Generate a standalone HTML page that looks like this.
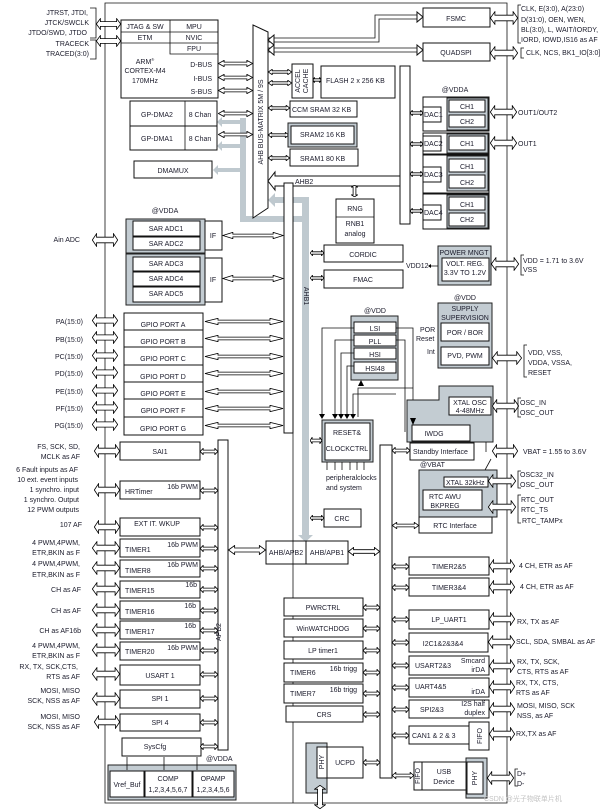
<!DOCTYPE html>
<html><head><meta charset="utf-8"><style>
html,body{margin:0;padding:0;background:#fff}
svg{display:block}
text{font-family:"Liberation Sans",sans-serif;font-size:7px;fill:#1b1b2b}
.b{fill:#fff;stroke:#111;stroke-width:1}
.g{fill:#c3ccd2;stroke:#222;stroke-width:1}
.gr{fill:#bfc9cf}
.l{stroke:#111;stroke-width:0.8;fill:none}
</style></head><body>
<svg width="616" height="809" viewBox="0 0 616 809" xmlns="http://www.w3.org/2000/svg">
<defs>
<symbol id="a" viewBox="0 0 40 10" preserveAspectRatio="none"><path d="M0.5,5 L7,0.5 L7,3 L33,3 L33,0.5 L39.5,5 L33,9.5 L33,7 L7,7 L7,9.5Z" fill="#fff" stroke="#000" stroke-width="0.8" vector-effect="non-scaling-stroke"/></symbol>
<symbol id="v" viewBox="0 0 10 40" preserveAspectRatio="none"><path d="M5,0.5 L0.5,7 L3,7 L3,33 L0.5,33 L5,39.5 L9.5,33 L7,33 L7,7 L9.5,7Z" fill="#fff" stroke="#000" stroke-width="0.8" vector-effect="non-scaling-stroke"/></symbol>
</defs>

<!-- frame -->
<path class="l" d="M105,3 L507,3 L507,803 L105,803 Z" stroke-width="1.2"/>

<!-- gray buses -->
<rect class="gr" x="240" y="118" width="6" height="104"/>
<rect class="gr" x="240" y="216" width="68" height="6"/>
<rect class="gr" x="302" y="200" width="7" height="335"/>
<polygon class="gr" points="298,535 313,535 305.5,542"/>
<rect class="gr" x="275" y="197" width="34" height="6"/>
<polygon class="gr" points="275,193 275,207 268,200"/>
<rect class="gr" x="222" y="120" width="20" height="4"/><polygon class="gr" points="222,117 222,127 217,122"/>
<rect class="gr" x="222" y="144" width="20" height="4"/><polygon class="gr" points="222,141 222,151 217,146"/>
<rect class="gr" x="218" y="168" width="24" height="4"/><polygon class="gr" points="218,165 218,175 213,170"/>

<!-- left external -->
<text x="88" y="15" text-anchor="end">JTRST, JTDI,</text>
<text x="89" y="25" text-anchor="end">JTCK/SWCLK</text>
<text x="87" y="35" text-anchor="end">JTDO/SWD, JTDO</text>
<path class="l" d="M90,8 H96 V38 H90"/>
<text x="89" y="46" text-anchor="end">TRACECK</text>
<text x="89" y="56" text-anchor="end">TRACED(3:0)</text>
<path class="l" d="M90,40 H96 V59 H90"/>
<use href="#a" x="96" y="18" width="25" height="12"/>
<use href="#a" x="96" y="35" width="25" height="12"/>

<!-- JTAG / CPU -->
<rect class="b" x="121" y="20" width="97" height="78"/>
<path class="l" d="M121,32 H218 M121,43 H218 M170,20 V54 H218"/>
<text x="145" y="29" text-anchor="middle">JTAG &amp; SW</text>
<text x="194" y="29" text-anchor="middle">MPU</text>
<text x="145" y="40" text-anchor="middle">ETM</text>
<text x="194" y="40" text-anchor="middle">NVIC</text>
<text x="194" y="51" text-anchor="middle">FPU</text>
<text x="145" y="64" text-anchor="middle">ARM<tspan font-size="4" dy="-3">®</tspan></text>
<text x="145" y="73" text-anchor="middle">CORTEX-M4</text>
<text x="145" y="83" text-anchor="middle">170MHz</text>
<text x="212" y="67" text-anchor="end">D-BUS</text>
<text x="212" y="81" text-anchor="end">I-BUS</text>
<text x="212" y="94" text-anchor="end">S-BUS</text>
<use href="#a" x="218" y="60" width="35" height="7"/>
<use href="#a" x="218" y="74" width="35" height="7"/>
<use href="#a" x="218" y="87" width="35" height="7"/>

<!-- DMA -->
<rect class="b" x="130" y="101" width="87" height="25"/>
<rect class="b" x="130" y="126" width="87" height="24"/>
<path class="l" d="M185,101 V150"/>
<text x="157" y="117" text-anchor="middle">GP-DMA2</text>
<text x="157" y="141" text-anchor="middle">GP-DMA1</text>
<text x="200" y="117" text-anchor="middle">8 Chan</text>
<text x="200" y="141" text-anchor="middle">8 Chan</text>
<use href="#a" x="218" y="110" width="35" height="7"/>
<use href="#a" x="218" y="131" width="35" height="7"/>
<rect class="b" x="134" y="161" width="78" height="17"/>
<text x="173" y="173" text-anchor="middle">DMAMUX</text>

<!-- bus matrix -->
<polygon class="b" points="253,25 268,32 268,208 253,218"/>
<text transform="translate(263,122) rotate(-90)" text-anchor="middle" font-size="6.5">AHB BUS-MATRIX 5M / 9S</text>

<!-- FSMC / QSPI paths -->
<path class="l" d="M268,38 H375 V15 H417 M268,42 H379 V19 H417"/>
<polygon class="b" points="417,12 423,17 417,22"/>
<path class="l" d="M268,48 H417 M268,52 H417"/>
<polygon class="b" points="417,45 423,50 417,55"/>
<polygon class="b" points="274,35 268,40 274,45"/>
<polygon class="b" points="274,45 268,50 274,55"/>
<rect class="b" x="423" y="8" width="67" height="19"/>
<text x="456" y="21" text-anchor="middle">FSMC</text>
<rect class="b" x="423" y="43" width="67" height="18"/>
<text x="456" y="55" text-anchor="middle">QUADSPI</text>
<use href="#a" x="490" y="11" width="28" height="14"/>
<use href="#a" x="490" y="46" width="28" height="14"/>
<path class="l" d="M521,5 H518 V43 H521"/>
<text x="521" y="11">CLK, E(3:0), A(23:0)</text>
<text x="521" y="22">D(31:0), OEN, WEN,</text>
<text x="521" y="32">BL(3:0), L, WAIT/IORDY,</text>
<text x="521" y="42">IORD, IOWD,IS16 as AF</text>
<path class="l" d="M524,48 H521 V58 H524"/>
<text x="526" y="55">CLK, NCS, BK1_IO[3:0]</text>

<!-- memories -->
<use href="#a" x="268" y="69" width="24" height="6"/>
<use href="#a" x="268" y="80" width="24" height="6"/>
<rect class="b" x="292" y="64" width="21" height="34"/>
<text transform="translate(300,81) rotate(-90)" text-anchor="middle" font-size="6">ACCEL</text>
<text transform="translate(308,81) rotate(-90)" text-anchor="middle" font-size="6">CACHE</text>
<use href="#a" x="313" y="77" width="8" height="6"/>
<rect class="b" x="321" y="66" width="74" height="32"/>
<text x="326" y="83">FLASH 2 x 256 KB</text>
<use href="#a" x="268" y="105" width="22" height="6"/>
<rect class="b" x="290" y="101" width="67" height="16"/>
<text x="292" y="112">CCM SRAM 32 KB</text>
<use href="#a" x="268" y="132" width="21" height="6"/>
<rect class="g" x="288" y="123" width="69" height="24"/>
<rect class="b" x="291" y="126" width="63" height="18"/>
<text x="300" y="137">SRAM2 16 KB</text>
<use href="#a" x="268" y="155" width="22" height="6"/>
<rect class="b" x="290" y="149" width="68" height="17"/>
<text x="300" y="161">SRAM1 80 KB</text>

<!-- AHB2 -->
<path class="b" d="M275,172 L275,176 L400,176 L400,186 L275,186 L275,190 L268,181 Z"/>
<text x="295" y="184">AHB2</text>
<rect class="b" x="400" y="66" width="10" height="158"/>
<use href="#v" x="351" y="185" width="7" height="12"/>
<rect class="b" x="336" y="199" width="38" height="44"/>
<path class="l" d="M336,217 H374"/>
<text x="355" y="211" text-anchor="middle">RNG</text>
<text x="355" y="226" text-anchor="middle">RNB1</text>
<text x="355" y="236" text-anchor="middle">analog</text>

<!-- DACs -->
<text x="455" y="92" text-anchor="middle">@VDDA</text>
<rect class="b" x="423" y="97" width="66" height="34"/>
<rect class="g" x="447" y="98" width="41" height="32"/>
<rect class="b" x="449" y="100" width="36" height="12"/><text x="467" y="109" text-anchor="middle">CH1</text>
<rect class="b" x="449" y="115" width="36" height="12"/><text x="467" y="124" text-anchor="middle">CH2</text>
<rect class="b" x="423" y="107" width="18" height="15"/><text x="424" y="117">DAC1</text>
<rect class="b" x="423" y="133" width="66" height="21"/>
<rect class="g" x="447" y="134" width="41" height="19"/>
<rect class="b" x="449" y="136" width="36" height="14"/><text x="467" y="146" text-anchor="middle">CH1</text>
<rect class="b" x="423" y="136" width="18" height="15"/><text x="424" y="146">DAC2</text>
<rect class="b" x="423" y="155" width="66" height="38"/>
<rect class="g" x="447" y="156" width="41" height="35"/>
<rect class="b" x="449" y="159" width="36" height="13"/><text x="467" y="169" text-anchor="middle">CH1</text>
<rect class="b" x="449" y="175" width="36" height="13"/><text x="467" y="185" text-anchor="middle">CH2</text>
<rect class="b" x="423" y="167" width="18" height="15"/><text x="424" y="177">DAC3</text>
<rect class="b" x="423" y="194" width="66" height="35"/>
<rect class="g" x="447" y="195" width="41" height="33"/>
<rect class="b" x="449" y="197" width="36" height="13"/><text x="467" y="207" text-anchor="middle">CH1</text>
<rect class="b" x="449" y="213" width="36" height="13"/><text x="467" y="222" text-anchor="middle">CH2</text>
<rect class="b" x="423" y="205" width="18" height="15"/><text x="424" y="215">DAC4</text>
<use href="#a" x="410" y="110" width="13" height="6"/>
<use href="#a" x="410" y="141" width="13" height="6"/>
<use href="#a" x="410" y="171" width="13" height="6"/>
<use href="#a" x="410" y="208" width="13" height="6"/>
<use href="#a" x="490" y="105" width="27" height="14"/>
<use href="#a" x="490" y="136" width="27" height="14"/>
<text x="518" y="115">OUT1/OUT2</text>
<text x="518" y="146">OUT1</text>

<!-- CORDIC/FMAC/POWER -->
<rect class="b" x="324" y="245" width="79" height="17"/><text x="363" y="257" text-anchor="middle">CORDIC</text>
<rect class="b" x="324" y="270" width="79" height="18"/><text x="363" y="282" text-anchor="middle">FMAC</text>
<use href="#a" x="310" y="250" width="14" height="6"/>
<use href="#a" x="310" y="275" width="14" height="6"/>
<rect class="g" x="438" y="246" width="53" height="39"/>
<text x="464" y="255" text-anchor="middle">POWER MNGT</text>
<rect class="b" x="442" y="258" width="47" height="23"/>
<text x="465" y="266" text-anchor="middle">VOLT. REG.</text>
<text x="465" y="275" text-anchor="middle">3.3V TO 1.2V</text>
<text x="406" y="268">VDD12</text>
<path class="l" d="M438,266 H431"/><polygon points="431,264 431,268 428,266" fill="#000"/>
<use href="#a" x="491" y="257" width="28" height="14"/>
<path class="l" d="M524,255 H521 V275 H524"/>
<text x="523" y="263">VDD = 1.71 to 3.6V</text>
<text x="523" y="272">VSS</text>

<!-- AHB1 / ADC / GPIO -->
<rect class="b" x="284" y="183" width="9" height="250"/>
<text transform="translate(304,296) rotate(90)" text-anchor="middle" font-size="6.5">AHB1</text>
<text x="165" y="213" text-anchor="middle">@VDDA</text>
<rect class="g" x="126" y="219" width="79" height="34"/>
<rect class="b" x="133" y="221" width="67" height="15"/><text x="166" y="231" text-anchor="middle">SAR ADC1</text>
<rect class="b" x="133" y="237" width="67" height="13"/><text x="166" y="246" text-anchor="middle">SAR ADC2</text>
<rect class="b" x="205" y="221" width="17" height="29"/><text x="213" y="238" text-anchor="middle">IF</text>
<rect class="g" x="126" y="254" width="79" height="51"/>
<rect class="b" x="133" y="257" width="67" height="14"/><text x="166" y="266" text-anchor="middle">SAR ADC3</text>
<rect class="b" x="133" y="272" width="67" height="14"/><text x="166" y="281" text-anchor="middle">SAR ADC4</text>
<rect class="b" x="133" y="287" width="67" height="15"/><text x="166" y="296" text-anchor="middle">SAR ADC5</text>
<rect class="b" x="205" y="258" width="17" height="44"/><text x="213" y="282" text-anchor="middle">IF</text>
<use href="#a" x="222" y="232" width="62" height="7"/>
<use href="#a" x="222" y="275" width="62" height="7"/>
<text x="80" y="242" text-anchor="end">Ain ADC</text>
<use href="#a" x="92" y="233" width="26" height="14"/>

<g>
<rect class="b" x="124" y="313" width="79" height="17"/><text x="163" y="327" text-anchor="middle">GPIO PORT A</text>
<rect class="b" x="124" y="330" width="79" height="17"/><text x="163" y="344" text-anchor="middle">GPIO PORT B</text>
<rect class="b" x="124" y="347" width="79" height="18"/><text x="163" y="361" text-anchor="middle">GPIO PORT C</text>
<rect class="b" x="124" y="365" width="79" height="17"/><text x="163" y="379" text-anchor="middle">GPIO PORT D</text>
<rect class="b" x="124" y="382" width="79" height="17"/><text x="163" y="396" text-anchor="middle">GPIO PORT E</text>
<rect class="b" x="124" y="399" width="79" height="18"/><text x="163" y="413" text-anchor="middle">GPIO PORT F</text>
<rect class="b" x="124" y="417" width="79" height="18"/><text x="163" y="431" text-anchor="middle">GPIO PORT G</text>
</g>
<g font-size="7">
<text x="83" y="324" text-anchor="end">PA(15:0)</text>
<text x="83" y="342" text-anchor="end">PB(15:0)</text>
<text x="83" y="359" text-anchor="end">PC(15:0)</text>
<text x="83" y="376" text-anchor="end">PD(15:0)</text>
<text x="83" y="394" text-anchor="end">PE(15:0)</text>
<text x="83" y="411" text-anchor="end">PF(15:0)</text>
<text x="83" y="428" text-anchor="end">PG(15:0)</text>
</g>
<use href="#a" x="92" y="314" width="26" height="13"/>
<use href="#a" x="92" y="331" width="26" height="13"/>
<use href="#a" x="92" y="349" width="26" height="13"/>
<use href="#a" x="92" y="366" width="26" height="13"/>
<use href="#a" x="92" y="384" width="26" height="13"/>
<use href="#a" x="92" y="401" width="26" height="13"/>
<use href="#a" x="92" y="418" width="26" height="13"/>
<use href="#a" x="204" y="318" width="80" height="7"/>
<use href="#a" x="204" y="335" width="80" height="7"/>
<use href="#a" x="204" y="353" width="80" height="7"/>
<use href="#a" x="204" y="370" width="80" height="7"/>
<use href="#a" x="204" y="388" width="80" height="7"/>
<use href="#a" x="204" y="405" width="80" height="7"/>
<use href="#a" x="204" y="422" width="80" height="7"/>

<!-- lower left APB2 -->
<rect class="b" x="218" y="440" width="10" height="310"/>
<text transform="translate(221,632) rotate(-90)" text-anchor="middle" font-size="6.5" fill="#334">APB2</text>
<g>
<rect class="b" x="120" y="442" width="80" height="18"/><text x="160" y="454" text-anchor="middle">SAI1</text>
<rect class="b" x="120" y="481" width="80" height="18"/><text x="125" y="494">HRTimer</text><text x="198" y="489" text-anchor="end">16b PWM</text>
<rect class="b" x="120" y="518" width="80" height="18"/><text x="157" y="526" text-anchor="middle">EXT IT. WKUP</text>
<rect class="b" x="120" y="539" width="80" height="18"/><text x="125" y="552">TIMER1</text><text x="198" y="547" text-anchor="end">16b PWM</text>
<rect class="b" x="120" y="560" width="80" height="17"/><text x="125" y="573">TIMER8</text><text x="198" y="567" text-anchor="end">16b PWM</text>
<rect class="b" x="120" y="581" width="80" height="17"/><text x="125" y="593">TIMER15</text><text x="197" y="587" text-anchor="end">16b</text>
<rect class="b" x="120" y="601" width="80" height="18"/><text x="125" y="614">TIMER16</text><text x="196" y="608" text-anchor="end">16b</text>
<rect class="b" x="120" y="621" width="80" height="18"/><text x="125" y="634">TIMER17</text><text x="196" y="628" text-anchor="end">16b</text>
<rect class="b" x="120" y="642" width="80" height="18"/><text x="125" y="654">TIMER20</text><text x="198" y="650" text-anchor="end">16b PWM</text>
<rect class="b" x="120" y="665" width="80" height="20"/><text x="160" y="678" text-anchor="middle">USART 1</text>
<rect class="b" x="120" y="690" width="80" height="18"/><text x="160" y="701" text-anchor="middle">SPI 1</text>
<rect class="b" x="120" y="714" width="80" height="17"/><text x="160" y="725" text-anchor="middle">SPI 4</text>
<rect class="b" x="122" y="738" width="79" height="18"/><text x="155" y="749" text-anchor="middle">SysCfg</text>
</g>
<use href="#a" x="200" y="448" width="18" height="7"/>
<use href="#a" x="200" y="487" width="18" height="7"/>
<use href="#a" x="200" y="524" width="18" height="7"/>
<use href="#a" x="200" y="545" width="18" height="7"/>
<use href="#a" x="200" y="565" width="18" height="7"/>
<use href="#a" x="200" y="586" width="18" height="7"/>
<use href="#a" x="200" y="607" width="18" height="7"/>
<use href="#a" x="200" y="627" width="18" height="7"/>
<use href="#a" x="200" y="647" width="18" height="7"/>
<use href="#a" x="200" y="671" width="18" height="7"/>
<use href="#a" x="200" y="695" width="18" height="7"/>
<use href="#a" x="200" y="719" width="18" height="7"/>
<use href="#a" x="200" y="743" width="18" height="7"/>
<g>
<use href="#a" x="94" y="444" width="26" height="14"/>
<use href="#a" x="94" y="483" width="26" height="14"/>
<use href="#a" x="94" y="520" width="26" height="14"/>
<use href="#a" x="92" y="541" width="28" height="14"/>
<use href="#a" x="92" y="561" width="28" height="14"/>
<use href="#a" x="92" y="582" width="28" height="14"/>
<use href="#a" x="92" y="603" width="28" height="14"/>
<use href="#a" x="92" y="623" width="28" height="14"/>
<use href="#a" x="92" y="643" width="28" height="14"/>
<use href="#a" x="92" y="667" width="28" height="14"/>
<use href="#a" x="92" y="692" width="28" height="14"/>
<use href="#a" x="94" y="715" width="26" height="14"/>
</g>
<g text-anchor="end">
<text x="80" y="449">FS, SCK, SD,</text><text x="80" y="459">MCLK as AF</text>
<text x="78" y="472">6 Fault inputs as AF</text>
<text x="78" y="482">10 ext. event inputs</text>
<text x="79" y="492">1 synchro. input</text>
<text x="79" y="502">1 synchro. Output</text>
<text x="79" y="512">12 PWM outputs</text>
<text x="82" y="527">107 AF</text>
<text x="80" y="545">4 PWM,4PWM,</text><text x="80" y="555">ETR,BKIN as F</text>
<text x="80" y="566">4 PWM,4PWM,</text><text x="80" y="577">ETR,BKIN as F</text>
<text x="81" y="592">CH as AF</text>
<text x="81" y="613">CH as AF</text>
<text x="81" y="633">CH as AF16b</text>
<text x="80" y="648">4 PWM,4PWM,</text><text x="80" y="658">ETR,BKIN as F</text>
<text x="78" y="669">RX, TX, SCK,CTS,</text><text x="80" y="679">RTS as AF</text>
<text x="80" y="693">MOSI, MISO</text><text x="80" y="703">SCK, NSS as AF</text>
<text x="80" y="719">MOSI, MISO</text><text x="80" y="729">SCK, NSS as AF</text>
</g>
<text x="206" y="761">@VDDA</text>
<rect class="g" x="108" y="765" width="128" height="35"/>
<rect class="b" x="110" y="771" width="34" height="26"/><text x="127" y="787" text-anchor="middle">Vref_Buf</text>
<rect class="b" x="145" y="771" width="47" height="26"/><text x="168" y="781" text-anchor="middle">COMP</text><text x="168" y="792" text-anchor="middle">1,2,3,4,5,6,7</text>
<rect class="b" x="193" y="771" width="41" height="26"/><text x="213" y="781" text-anchor="middle">OPAMP</text><text x="213" y="792" text-anchor="middle">1,2,3,4,5,6</text>
<path class="l" d="M127,757 V770 M164,757 V770 M197,757 V770"/>

<!-- AHB/APB -->
<rect class="b" x="266" y="541" width="40" height="23"/><text x="286" y="555" text-anchor="middle" font-size="6.5">AHB/APB2</text>
<rect class="b" x="306" y="541" width="42" height="23"/><text x="327" y="555" text-anchor="middle" font-size="6.5">AHB/APB1</text>
<use href="#a" x="228" y="545" width="38" height="10"/>
<use href="#a" x="348" y="547" width="32" height="9"/>
<path class="l" d="M293,433 V803"/>

<!-- clock -->
<text x="375" y="313" text-anchor="middle">@VDD</text>
<rect class="g" x="351" y="316" width="47" height="64"/>
<rect class="b" x="354" y="322" width="42" height="11"/><text x="375" y="331" text-anchor="middle">LSI</text>
<rect class="b" x="354" y="335" width="42" height="11"/><text x="375" y="344" text-anchor="middle">PLL</text>
<rect class="b" x="354" y="348" width="42" height="11"/><text x="375" y="357" text-anchor="middle">HSI</text>
<rect class="b" x="354" y="362" width="42" height="11"/><text x="375" y="371" text-anchor="middle">HSI48</text>
<path class="l" d="M354,328 H322 V417 M354,340 H335 V417 M354,353 H341 V417 M354,366 H347 V417 M353,417 V394 H396 M358,417 V388 H413"/>
<path class="l" d="M396,328 H413 V410 M396,340 H405 V432"/>
<polygon points="361,380 358,386 364,386" fill="#000"/>
<polygon points="319,414 322,419 325,414" fill="#000"/>
<polygon points="332,414 335,419 338,414" fill="#000"/>
<polygon points="338,414 341,419 344,414" fill="#000"/>
<polygon points="344,414 347,419 350,414" fill="#000"/>
<polygon points="350,414 353,419 356,414" fill="#000"/>
<rect class="g" x="322" y="420" width="51" height="42"/>
<rect class="b" x="325" y="423" width="45" height="37"/>
<text x="347" y="435" text-anchor="middle">RESET&amp;</text>
<text x="347" y="451" text-anchor="middle">CLOCKCTRL</text>
<use href="#a" x="310" y="437" width="12" height="7"/>
<path class="l" d="M327,462 V470 M335,462 V470 M342,462 V470 M350,462 V470 M357,462 V470 M364,462 V470"/>
<text x="326" y="480">peripheralclocks</text>
<text x="326" y="490">and system</text>
<rect class="b" x="324" y="509" width="37" height="18"/><text x="342" y="521" text-anchor="middle">CRC</text>
<use href="#a" x="310" y="515" width="14" height="6"/>

<!-- supply -->
<text x="465" y="300" text-anchor="middle">@VDD</text>
<rect class="g" x="438" y="303" width="54" height="65"/>
<text x="465" y="311" text-anchor="middle">SUPPLY</text>
<text x="465" y="320" text-anchor="middle">SUPERVISION</text>
<rect class="b" x="441" y="323" width="48" height="18"/><text x="465" y="335" text-anchor="middle">POR / BOR</text>
<rect class="b" x="441" y="347" width="48" height="18"/><text x="465" y="358" text-anchor="middle">PVD, PWM</text>
<text x="420" y="332">POR</text><text x="416" y="341">Reset</text><text x="427" y="354">Int</text>
<use href="#a" x="492" y="351" width="30" height="14"/>
<path class="l" d="M527,345 H524 V377 H527"/>
<text x="528" y="355">VDD, VSS,</text>
<text x="528" y="365">VDDA, VSSA,</text>
<text x="528" y="375">RESET</text>

<!-- IWDG/osc -->
<polygon class="g" points="439,386 493,386 493,442 407,442 407,400 439,400"/>
<rect class="b" x="449" y="397" width="42" height="18"/>
<text x="470" y="405" text-anchor="middle">XTAL OSC</text>
<text x="470" y="413" text-anchor="middle">4-48MHz</text>
<rect class="b" x="412" y="425" width="58" height="16"/><text x="434" y="436" text-anchor="middle">IWDG</text>
<polygon points="410,418 413,425 416,418" fill="#000"/>
<rect class="b" x="410" y="443" width="64" height="17"/><text x="413" y="454">Standby Interface</text>
<use href="#a" x="392" y="447" width="18" height="7"/>
<use href="#a" x="492" y="399" width="27" height="14"/>
<path class="l" d="M521,398 H518 V417 H521"/>
<text x="520" y="405">OSC_IN</text><text x="520" y="415">OSC_OUT</text>
<use href="#v" x="205" y="445" width="0" height="0"/>
<use href="#v" x="500" y="444" width="0" height="0"/>
<use href="#a" x="492" y="444" width="26" height="14"/>
<text x="523" y="454">VBAT = 1.55 to 3.6V</text>
<path class="l" d="M486,442 V452 M491,459 L485,470"/>

<!-- RTC -->
<text x="420" y="467">@VBAT</text>
<rect class="g" x="419" y="470" width="78" height="47"/>
<rect class="b" x="444" y="477" width="44" height="10"/><text x="446" y="485">XTAL 32kHz</text>
<rect class="b" x="423" y="490" width="59" height="20"/>
<text x="445" y="499" text-anchor="middle" font-size="8">RTC AWU</text>
<text x="445" y="508" text-anchor="middle" font-size="8">BKPREG</text>
<rect class="b" x="419" y="517" width="73" height="16"/><text x="455" y="528" text-anchor="middle">RTC Interface</text>
<use href="#a" x="392" y="522" width="27" height="7"/>
<use href="#a" x="488" y="474" width="28" height="14"/>
<use href="#a" x="488" y="500" width="28" height="14"/>
<path class="l" d="M521,471 H518 V488 H521 M521,495 H518 V523 H521"/>
<text x="520" y="477">OSC32_IN</text><text x="520" y="487">OSC_OUT</text>
<text x="521" y="502">RTC_OUT</text><text x="521" y="512">RTC_TS</text><text x="522" y="523">RTC_TAMPx</text>

<!-- APB1 -->
<rect class="b" x="380" y="445" width="12" height="333"/>
<g>
<rect class="b" x="284" y="598" width="79" height="18"/><text x="323" y="610" text-anchor="middle">PWRCTRL</text>
<rect class="b" x="284" y="619" width="79" height="18"/><text x="323" y="631" text-anchor="middle">WinWATCHDOG</text>
<rect class="b" x="284" y="641" width="79" height="18"/><text x="323" y="653" text-anchor="middle">LP timer1</text>
<rect class="b" x="284" y="663" width="79" height="19"/><text x="290" y="675">TIMER6</text><text x="357" y="671" text-anchor="end">16b trigg</text>
<rect class="b" x="284" y="684" width="79" height="19"/><text x="290" y="696">TIMER7</text><text x="357" y="692" text-anchor="end">16b trigg</text>
<rect class="b" x="286" y="706" width="77" height="16"/><text x="324" y="717" text-anchor="middle">CRS</text>
</g>
<use href="#a" x="363" y="604" width="17" height="7"/>
<use href="#a" x="363" y="625" width="17" height="7"/>
<use href="#a" x="363" y="647" width="17" height="7"/>
<use href="#a" x="363" y="669" width="17" height="7"/>
<use href="#a" x="363" y="690" width="17" height="7"/>
<use href="#a" x="363" y="711" width="17" height="7"/>
<rect class="g" x="306" y="743" width="21" height="50"/>
<rect class="b" x="317" y="747" width="10" height="31"/>
<text transform="translate(324,762) rotate(-90)" text-anchor="middle">PHY</text>
<rect class="b" x="327" y="747" width="36" height="31"/><text x="345" y="765" text-anchor="middle">UCPD</text>
<use href="#a" x="363" y="759" width="17" height="7"/>
<use href="#v" x="314" y="785" width="12" height="24"/>

<g>
<rect class="b" x="409" y="557" width="80" height="18"/><text x="449" y="569" text-anchor="middle">TIMER2&amp;5</text>
<rect class="b" x="409" y="578" width="80" height="18"/><text x="449" y="590" text-anchor="middle">TIMER3&amp;4</text>
<rect class="b" x="409" y="610" width="80" height="19"/><text x="449" y="622" text-anchor="middle">LP_UART1</text>
<rect class="b" x="409" y="633" width="79" height="19"/><text x="443" y="646" text-anchor="middle">I2C1&amp;2&amp;3&amp;4</text>
<rect class="b" x="409" y="656" width="80" height="19"/><text x="415" y="668">USART2&amp;3</text><text x="485" y="663" text-anchor="end">Smcard</text><text x="485" y="672" text-anchor="end">irDA</text>
<rect class="b" x="409" y="678" width="80" height="19"/><text x="415" y="689">UART4&amp;5</text><text x="485" y="694" text-anchor="end">irDA</text>
<rect class="b" x="409" y="700" width="80" height="18"/><text x="420" y="712">SPI2&amp;3</text><text x="485" y="706" text-anchor="end">I2S half</text><text x="485" y="715" text-anchor="end">duplex</text>
<rect class="b" x="409" y="726" width="60" height="18"/><text x="412" y="738">CAN1 &amp; 2 &amp; 3</text>
<rect class="b" x="469" y="722" width="20" height="28"/><text transform="translate(482,736) rotate(-90)" text-anchor="middle">FIFO</text>
<rect class="b" x="414" y="762" width="8" height="28"/><text transform="translate(420,776) rotate(-90)" text-anchor="middle" font-size="6">FIFO</text>
<rect class="b" x="422" y="762" width="44" height="28"/><text x="444" y="774" text-anchor="middle">USB</text><text x="444" y="784" text-anchor="middle">Device</text>
<rect class="g" x="466" y="758" width="21" height="40"/>
<rect class="b" x="467" y="762" width="16" height="32"/><text transform="translate(477,778) rotate(-90)" text-anchor="middle">PHY</text>
</g>
<use href="#a" x="392" y="563" width="17" height="7"/>
<use href="#a" x="392" y="584" width="17" height="7"/>
<use href="#a" x="392" y="616" width="17" height="7"/>
<use href="#a" x="392" y="639" width="17" height="7"/>
<use href="#a" x="392" y="662" width="17" height="7"/>
<use href="#a" x="392" y="684" width="17" height="7"/>
<use href="#a" x="392" y="706" width="17" height="7"/>
<use href="#a" x="392" y="732" width="17" height="7"/>
<use href="#a" x="392" y="772" width="22" height="7"/>
<use href="#a" x="489" y="559" width="26" height="14"/>
<use href="#a" x="489" y="580" width="26" height="14"/>
<use href="#a" x="489" y="612" width="26" height="14"/>
<use href="#a" x="488" y="635" width="27" height="14"/>
<use href="#a" x="489" y="659" width="26" height="14"/>
<use href="#a" x="489" y="680" width="26" height="14"/>
<use href="#a" x="489" y="702" width="26" height="14"/>
<use href="#a" x="489" y="727" width="26" height="14"/>
<use href="#a" x="487" y="771" width="27" height="14"/>
<text x="519" y="568">4 CH, ETR as AF</text>
<text x="520" y="589">4 CH, ETR as AF</text>
<text x="517" y="624">RX, TX as AF</text>
<text x="516" y="644">SCL, SDA, SMBAL as AF</text>
<text x="517" y="664">RX, TX, SCK,</text><text x="517" y="674">CTS, RTS as AF</text>
<text x="516" y="685">RX, TX, CTS,</text><text x="516" y="695">RTS as AF</text>
<text x="517" y="708">MOSI, MISO, SCK</text><text x="517" y="718">NSS, as AF</text>
<text x="516" y="736">RX,TX as AF</text>
<path class="l" d="M518,769 H515 V786 H518"/>
<text x="517" y="776">D+</text><text x="517" y="786">D-</text>
<text x="484" y="801" fill="#bbb" font-size="9" style="fill:#c4c4c4">CSDN @光子物联单片机</text>
</svg>
</body></html>
